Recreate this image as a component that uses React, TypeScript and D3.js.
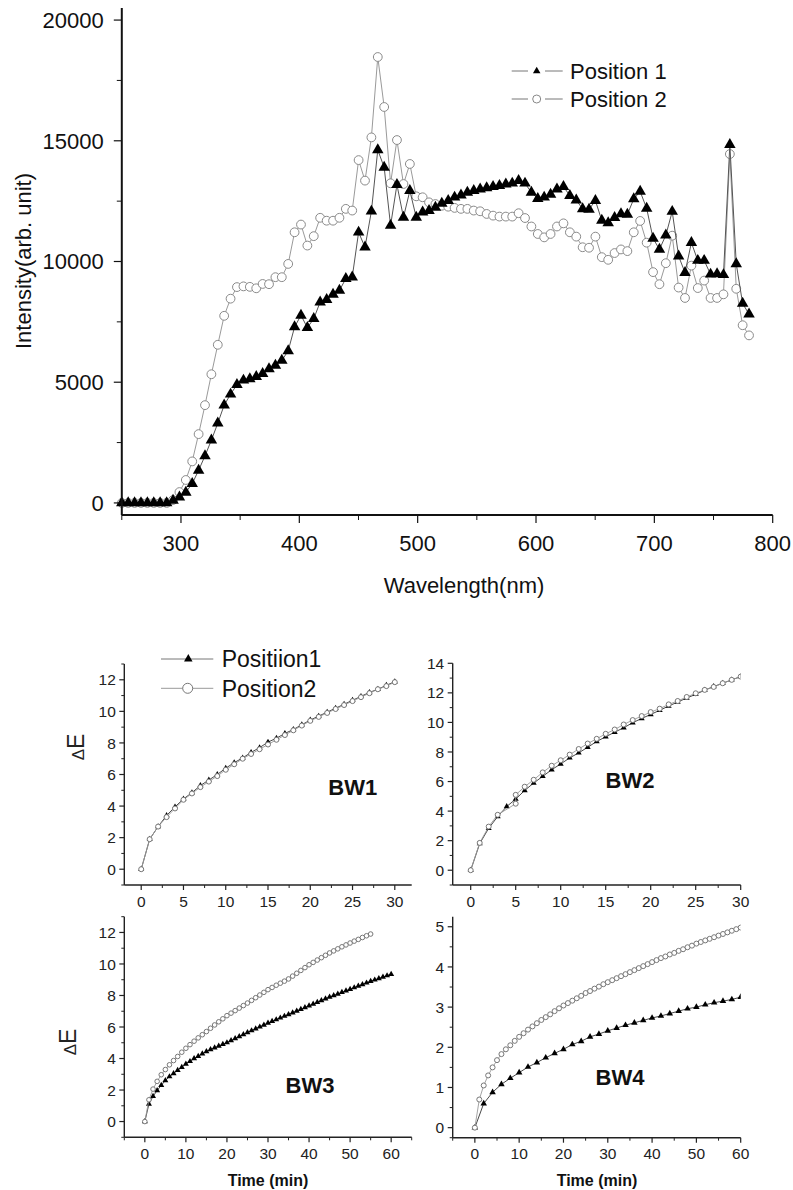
import React from 'react';
import * as d3 from 'd3';

const FONT = '"Liberation Sans", Arial, Helvetica, sans-serif';

// ---------- Top chart data ----------
const WAVELENGTH = [
  250.0, 255.4, 260.8, 266.2, 271.6, 277.0, 282.4, 287.9, 293.3, 298.7,
  304.1, 309.5, 314.9, 320.3, 325.7, 331.1, 336.5, 341.9, 347.3, 352.8,
  358.2, 363.6, 369.0, 374.4, 379.8, 385.2, 390.6, 396.0, 401.4, 406.8,
  412.2, 417.6, 423.1, 428.5, 433.9, 439.3, 444.7, 450.1, 455.5, 460.9,
  466.3, 471.7, 477.1, 482.5, 488.0, 493.4, 498.8, 504.2, 509.6, 515.0,
  520.4, 525.8, 531.2, 536.6, 542.0, 547.4, 552.8, 558.3, 563.7, 569.1,
  574.5, 579.9, 585.3, 590.7, 596.1, 601.5, 606.9, 612.3, 617.7, 623.2,
  628.6, 634.0, 639.4, 644.8, 650.2, 655.6, 661.0, 666.4, 671.8, 677.2,
  682.6, 688.0, 693.5, 698.9, 704.3, 709.7, 715.1, 720.5, 725.9, 731.3,
  736.7, 742.1, 747.5, 753.0, 758.4, 763.8, 769.2, 774.6, 780.0,
];
const POSITION1_INTENSITY = [
  0, 0, 0, 0, 0, 0, 0, 0, 100, 240,
  440, 800, 1350, 1950, 2600, 3300, 4050, 4500, 4900, 5080,
  5140, 5230, 5350, 5550, 5700, 5900, 6300, 7290, 7770, 7260,
  7630, 8320, 8420, 8640, 8800, 9290, 9350, 11210, 10590, 12080,
  14620, 13900, 11490, 13180, 11830, 12930, 11830, 12040, 12110, 12240,
  12410, 12520, 12660, 12750, 12860, 12930, 13000, 13050, 13100, 13140,
  13200, 13240, 13350, 13240, 12860, 12600, 12660, 12780, 13000, 13100,
  12730, 12540, 12180, 12160, 12520, 11700, 11600, 11820, 11970, 11950,
  12590, 12900, 12200, 10960, 10500, 11090, 12070, 10220, 9540, 10780,
  10040, 10040, 9470, 9490, 9450, 14840, 9900, 8260, 7820,
];
const POSITION2_INTENSITY = [
  0, 0, 0, 0, 0, 0, 0, 0, 120, 450,
  950, 1720, 2850, 4050, 5330, 6550, 7750, 8460, 8940, 8970,
  8950, 8890, 9070, 9060, 9350, 9350, 9900, 11210, 11530, 10660,
  11050, 11810, 11690, 11690, 11810, 12180, 12110, 14200, 13350, 15140,
  18470, 16400, 13240, 15030, 13210, 14040, 12700, 12660, 12450, 12380,
  12310, 12270, 12220, 12180, 12180, 12110, 12080, 11970, 11900, 11860,
  11860, 11860, 12000, 11800, 11450, 11140, 11000, 11140, 11450, 11580,
  11210, 11030, 10590, 10570, 11030, 10180, 10070, 10350, 10500, 10430,
  11210, 11680, 10780, 9560, 9060, 9930, 11070, 8920, 8490, 9830,
  8900, 9210, 8490, 8490, 8640, 14450, 8870, 7360, 6940,
];
const INTENSITY_TICKS = [0, 5000, 10000, 15000, 20000];
const INTENSITY_MINOR = [2500, 7500, 12500, 17500];
const WAVELENGTH_TICKS = [300, 400, 500, 600, 700, 800];
const WAVELENGTH_MINOR = [250, 350, 450, 550, 650, 750];

// ---------- BW panels data ----------
const BW1_TIME = [0,1,2,3,4,5,6,7,8,9,10,11,12,13,14,15,16,17,18,19,20,21,22,23,24,25,26,27,28,29,30];
const BW1_P1 = [0, 1.9, 2.7, 3.4, 3.95, 4.45, 4.85, 5.3, 5.65, 6.0, 6.4, 6.75, 7.05, 7.4, 7.7, 8.05,
  8.3, 8.6, 8.85, 9.15, 9.45, 9.7, 9.95, 10.2, 10.45, 10.7, 10.95, 11.2, 11.4, 11.65, 11.88];
const BW1_P2 = [0, 1.9, 2.7, 3.3, 3.85, 4.4, 4.8, 5.2, 5.55, 5.9, 6.3, 6.65, 7.0, 7.3, 7.6, 7.9,
  8.2, 8.5, 8.8, 9.1, 9.4, 9.65, 9.9, 10.15, 10.4, 10.65, 10.9, 11.15, 11.4, 11.6, 11.85];

const BW2_TIME_P1 = [0,1,2,3,4,5,6,7,8,9,10,11,12,13,14,15,16,17,18,19,20,21,22,23,24,25,26,27,28,29,30];
const BW2_P1 = [0, 1.8, 2.84, 3.63, 4.31, 4.81, 5.4, 5.9, 6.35, 6.8, 7.19, 7.6, 7.94, 8.32, 8.71, 9.03,
  9.34, 9.64, 9.98, 10.27, 10.54, 10.82, 11.11, 11.38, 11.65, 11.9, 12.18, 12.43, 12.65, 12.88, 13.1];
const BW2_TIME_P2 = [0,1,2,3,5,5,6,7,8,9,10,11,12,13,14,15,16,17,18,19,20,21,22,23,24,25,26,27,28,29,30];
const BW2_P2 = [0, 1.85, 2.95, 3.75, 4.5, 5.1, 5.65, 6.12, 6.62, 7.07, 7.44, 7.82, 8.2, 8.57, 8.89, 9.23,
  9.52, 9.86, 10.16, 10.43, 10.7, 10.93, 11.22, 11.45, 11.72, 11.97, 12.2, 12.4, 12.65, 12.88, 13.1];

const BW3_TIME_P1 = d3.range(0, 61);
const BW3_P1 = [0, 1.12, 1.6, 1.97, 2.3, 2.6, 2.85, 3.05, 3.25, 3.45, 3.65, 3.82, 4.0, 4.15, 4.3, 4.45,
  4.57, 4.68, 4.79, 4.9, 5.01, 5.14, 5.27, 5.4, 5.53, 5.65, 5.77, 5.89, 6.01, 6.13, 6.25,
  6.36, 6.47, 6.58, 6.69, 6.8, 6.91, 7.02, 7.13, 7.24, 7.35, 7.46, 7.57, 7.68, 7.79, 7.9,
  8.0, 8.1, 8.2, 8.3, 8.4, 8.5, 8.6, 8.7, 8.8, 8.9, 8.99, 9.08, 9.17, 9.26, 9.35];
const BW3_TIME_P2 = d3.range(0, 56);
const BW3_P2 = [0, 1.38, 2.06, 2.55, 2.97, 3.3, 3.6, 3.87, 4.13, 4.4, 4.65, 4.88, 5.1, 5.31, 5.51, 5.71,
  5.92, 6.13, 6.33, 6.52, 6.72, 6.88, 7.04, 7.2, 7.36, 7.52, 7.69, 7.86, 8.03, 8.2, 8.37,
  8.51, 8.65, 8.78, 8.91, 9.05, 9.23, 9.41, 9.59, 9.77, 9.95, 10.1, 10.25, 10.4, 10.55, 10.7,
  10.83, 10.96, 11.09, 11.21, 11.33, 11.45, 11.56, 11.68, 11.79, 11.9];

const BW4_TIME_P1 = [0,2,4,6,8,10,12,14,16,18,20,22,24,26,28,30,32,34,36,38,40,42,44,46,48,50,52,54,56,58,60];
const BW4_P1 = [0, 0.6, 0.88, 1.08, 1.23, 1.37, 1.51, 1.62, 1.74, 1.85, 1.95, 2.07, 2.15, 2.26, 2.33, 2.41,
  2.48, 2.55, 2.61, 2.67, 2.73, 2.78, 2.84, 2.9, 2.96, 3.0, 3.06, 3.11, 3.15, 3.19, 3.25];
const BW4_TIME_P2 = d3.range(0, 61);
const BW4_P2 = [0, 0.7, 1.05, 1.3, 1.5, 1.68, 1.83, 1.95, 2.05, 2.16, 2.26, 2.35, 2.44, 2.52, 2.6, 2.68,
  2.75, 2.82, 2.9, 2.97, 3.04, 3.1, 3.16, 3.22, 3.28, 3.35, 3.4, 3.46, 3.51, 3.57, 3.62,
  3.67, 3.72, 3.77, 3.82, 3.87, 3.92, 3.97, 4.02, 4.07, 4.12, 4.17, 4.22, 4.26, 4.31, 4.35,
  4.4, 4.44, 4.49, 4.53, 4.58, 4.62, 4.66, 4.7, 4.74, 4.78, 4.82, 4.86, 4.9, 4.94, 4.98];

const SERIES_LABELS_TOP = ['Position 1', 'Position 2'];
const SERIES_LABELS_BW = ['Positiion1', 'Position2'];

// ---------- helpers ----------
type Scale = d3.ScaleLinear<number, number>;

function triPath(width: number) {
  const area = (Math.sqrt(3) / 4) * width * width;
  return d3.symbol().type(d3.symbolTriangle).size(area)() as string;
}

function Series(props: {
  xs: number[]; ys: number[]; sx: Scale; sy: Scale; kind: 'tri' | 'circ';
  lineColor: string; lineWidth: number; size: number; stroke?: string; clip?: string;
}) {
  const { xs, ys, sx, sy, kind, lineColor, lineWidth, size, stroke, clip } = props;
  const pts: [number, number][] = xs.map((v, i) => [sx(v), sy(ys[i])]);
  const line = d3.line()(pts) as string;
  const tri = triPath(size);
  return (
    <g clipPath={clip}>
      <path d={line} fill="none" stroke={lineColor} strokeWidth={lineWidth} />
      {pts.map(([px, py], i) =>
        kind === 'tri' ? (
          <path key={i} d={tri} transform={`translate(${px},${py})`} fill="#000" />
        ) : (
          <circle key={i} cx={px} cy={py} r={size} fill="#fff" stroke={stroke || '#888'} strokeWidth={1} />
        )
      )}
    </g>
  );
}

function Axes(props: {
  sx: Scale; sy: Scale; xMajor: number[]; xMinor: number[]; yMajor: number[]; yMinor: number[];
  axisWidth: number; majorLen: number; minorLen: number; fontSize: number;
  xLabelDy: number; yLabelGap: number; color: string;
}) {
  const { sx, sy, xMajor, xMinor, yMajor, yMinor, axisWidth, majorLen, minorLen, fontSize, xLabelDy, yLabelGap, color } = props;
  const [x0, x1] = sx.range();
  const [y0, y1] = sy.range();
  return (
    <g fontFamily={FONT} fill={color}>
      <line x1={x0} x2={x0} y1={y0} y2={y1} stroke={color} strokeWidth={axisWidth} />
      <line x1={x0} x2={x1} y1={y0} y2={y0} stroke={color} strokeWidth={axisWidth} />
      {yMajor.map((v) => (
        <g key={'ym' + v}>
          <line x1={x0 - majorLen} x2={x0} y1={sy(v)} y2={sy(v)} stroke={color} strokeWidth={1.2} />
          <text x={x0 - yLabelGap} y={sy(v)} dy="0.36em" textAnchor="end" fontSize={fontSize}>{v}</text>
        </g>
      ))}
      {yMinor.map((v) => (
        <line key={'yn' + v} x1={x0 - minorLen} x2={x0} y1={sy(v)} y2={sy(v)} stroke={color} strokeWidth={1} />
      ))}
      {xMajor.map((v) => (
        <g key={'xm' + v}>
          <line x1={sx(v)} x2={sx(v)} y1={y0} y2={y0 + majorLen} stroke={color} strokeWidth={1.2} />
          <text x={sx(v)} y={y0 + xLabelDy} textAnchor="middle" fontSize={fontSize}>{v}</text>
        </g>
      ))}
      {xMinor.map((v) => (
        <line key={'xn' + v} x1={sx(v)} x2={sx(v)} y1={y0} y2={y0 + minorLen} stroke={color} strokeWidth={1} />
      ))}
    </g>
  );
}

function DeltaE({ x, y }: { x: number; y: number }) {
  return (
    <text transform={`translate(${x},${y}) rotate(-90)`} textAnchor="middle" fontFamily={FONT} fontSize={23} fill="#222">
      <tspan fontSize={17}>Δ</tspan>E
    </text>
  );
}

function Panel(props: {
  id: string; xDomain: [number, number]; yDomain: [number, number];
  xRange: [number, number]; yRange: [number, number];
  xMajor: number[]; xMinor: number[]; yMajor: number[]; yMinor: number[];
  p1x: number[]; p1y: number[]; p2x: number[]; p2y: number[];
  triSize: number; circR: number; label: string; labelX: number; labelY: number;
}) {
  const sx = d3.scaleLinear().domain(props.xDomain).range(props.xRange);
  const sy = d3.scaleLinear().domain(props.yDomain).range(props.yRange);
  const clipId = 'clip-' + props.id;
  return (
    <g>
      <defs>
        <clipPath id={clipId}>
          <rect x={props.xRange[0]} y={props.yRange[1] - 6} width={props.xRange[1] - props.xRange[0]} height={props.yRange[0] - props.yRange[1] + 6} />
        </clipPath>
      </defs>
      <Series xs={props.p1x} ys={props.p1y} sx={sx} sy={sy} kind="tri" lineColor="#333" lineWidth={0.9} size={props.triSize} clip={`url(#${clipId})`} />
      <Series xs={props.p2x} ys={props.p2y} sx={sx} sy={sy} kind="circ" lineColor="#999" lineWidth={0.9} size={props.circR} stroke="#777" clip={`url(#${clipId})`} />
      <Axes sx={sx} sy={sy} xMajor={props.xMajor} xMinor={props.xMinor} yMajor={props.yMajor} yMinor={props.yMinor}
        axisWidth={1.4} majorLen={5} minorLen={3} fontSize={15.5} xLabelDy={21.5} yLabelGap={8.5} color="#222" />
      <text x={props.labelX} y={props.labelY} textAnchor="middle" fontFamily={FONT} fontWeight="bold" fontSize={22} fill="#111">{props.label}</text>
    </g>
  );
}

export default function App() {
  const sx = d3.scaleLinear().domain([250, 800]).range([121.8, 772.7]);
  const sy = d3.scaleLinear().domain([-500, 20500]).range([515, 8]);
  const triLeg = triPath(7.5);

  return (
    <svg width={793} height={1190} style={{ position: 'absolute', left: 0, top: 0, background: '#fff' }}>
      <rect x={0} y={0} width={793} height={1190} fill="#fff" />
      {/* ---------- Top chart ---------- */}
      <Series xs={WAVELENGTH} ys={POSITION2_INTENSITY} sx={sx} sy={sy} kind="circ" lineColor="#9a9a9a" lineWidth={1} size={4.4} stroke="#8a8a8a" />
      <Series xs={WAVELENGTH} ys={POSITION1_INTENSITY} sx={sx} sy={sy} kind="tri" lineColor="#555" lineWidth={1} size={11.5} />
      <Axes sx={sx} sy={sy} xMajor={WAVELENGTH_TICKS} xMinor={WAVELENGTH_MINOR} yMajor={INTENSITY_TICKS} yMinor={INTENSITY_MINOR}
        axisWidth={2} majorLen={8} minorLen={5} fontSize={22} xLabelDy={36} yLabelGap={18} color="#111" />
      <text x={464} y={593} textAnchor="middle" fontFamily={FONT} fontSize={22} fill="#111">Wavelength(nm)</text>
      <text transform="translate(31,261) rotate(-90)" textAnchor="middle" fontFamily={FONT} fontSize={22} fill="#111">Intensity(arb. unit)</text>
      {/* legend */}
      <g fontFamily={FONT} fontSize={22} fill="#111">
        <line x1={511.7} x2={528} y1={71} y2={71} stroke="#777" strokeWidth={1} />
        <line x1={545} x2={562.7} y1={71} y2={71} stroke="#777" strokeWidth={1} />
        <path d={triLeg} transform="translate(536.7,71)" fill="#000" />
        <text x={570} y={79}>{SERIES_LABELS_TOP[0]}</text>
        <line x1={511.7} x2={528} y1={99} y2={99} stroke="#777" strokeWidth={1} />
        <line x1={545} x2={562.7} y1={99} y2={99} stroke="#777" strokeWidth={1} />
        <circle cx={536.7} cy={99} r={4} fill="#fff" stroke="#888" strokeWidth={1} />
        <text x={570} y={107}>{SERIES_LABELS_TOP[1]}</text>
      </g>

      {/* ---------- BW1 ---------- */}
      <Panel id="bw1" xDomain={[-2, 32]} yDomain={[-1, 13]} xRange={[124.3, 411.7]} yRange={[885, 664]}
        xMajor={[0, 5, 10, 15, 20, 25, 30]} xMinor={[2.5, 7.5, 12.5, 17.5, 22.5, 27.5]}
        yMajor={[0, 2, 4, 6, 8, 10, 12]} yMinor={[-1, 1, 3, 5, 7, 9, 11, 13]}
        p1x={BW1_TIME} p1y={BW1_P1} p2x={BW1_TIME} p2y={BW1_P2} triSize={6} circR={2.5}
        label="BW1" labelX={352.7} labelY={795} />
      <DeltaE x={84} y={747} />
      <g fontFamily={FONT} fontSize={23} fill="#111">
        <line x1={161} x2={213.3} y1={659} y2={659} stroke="#777" strokeWidth={1} />
        <path d={triPath(8.5)} transform="translate(188.3,659)" fill="#000" />
        <text x={221.7} y={667}>{SERIES_LABELS_BW[0]}</text>
        <line x1={161} x2={213.3} y1={688.3} y2={688.3} stroke="#999" strokeWidth={1} />
        <circle cx={187.7} cy={688.3} r={5} fill="#fff" stroke="#777" strokeWidth={1} />
        <text x={221.7} y={697}>{SERIES_LABELS_BW[1]}</text>
      </g>

      {/* ---------- BW2 ---------- */}
      <Panel id="bw2" xDomain={[-2, 30]} yDomain={[-1, 14]} xRange={[452.7, 740.7]} yRange={[885, 663.3]}
        xMajor={[0, 5, 10, 15, 20, 25, 30]} xMinor={[2.5, 7.5, 12.5, 17.5, 22.5, 27.5]}
        yMajor={[0, 2, 4, 6, 8, 10, 12, 14]} yMinor={[-1, 1, 3, 5, 7, 9, 11, 13]}
        p1x={BW2_TIME_P1} p1y={BW2_P1} p2x={BW2_TIME_P2} p2y={BW2_P2} triSize={6} circR={2.5}
        label="BW2" labelX={630} labelY={788} />

      {/* ---------- BW3 ---------- */}
      <Panel id="bw3" xDomain={[-5, 65]} yDomain={[-1, 13]} xRange={[124.3, 411.7]} yRange={[1137.3, 916.7]}
        xMajor={[0, 10, 20, 30, 40, 50, 60]} xMinor={[-5, 5, 15, 25, 35, 45, 55, 65]}
        yMajor={[0, 2, 4, 6, 8, 10, 12]} yMinor={[-1, 1, 3, 5, 7, 9, 11, 13]}
        p1x={BW3_TIME_P1} p1y={BW3_P1} p2x={BW3_TIME_P2} p2y={BW3_P2} triSize={6} circR={2.3}
        label="BW3" labelX={310} labelY={1093} />
      <DeltaE x={76} y={1042} />
      <text x={268} y={1186} textAnchor="middle" fontFamily={FONT} fontWeight="bold" fontSize={16} fill="#111">Time (min)</text>

      {/* ---------- BW4 ---------- */}
      <Panel id="bw4" xDomain={[-5, 60]} yDomain={[-0.25, 5.25]} xRange={[452.7, 740.7]} yRange={[1137.7, 916.7]}
        xMajor={[0, 10, 20, 30, 40, 50, 60]} xMinor={[-5, 5, 15, 25, 35, 45, 55]}
        yMajor={[0, 1, 2, 3, 4, 5]} yMinor={[-0.25, 0.5, 1.5, 2.5, 3.5, 4.5]}
        p1x={BW4_TIME_P1} p1y={BW4_P1} p2x={BW4_TIME_P2} p2y={BW4_P2} triSize={6.5} circR={2.5}
        label="BW4" labelX={620} labelY={1085} />
      <text x={597} y={1186} textAnchor="middle" fontFamily={FONT} fontWeight="bold" fontSize={16} fill="#111">Time (min)</text>
    </svg>
  );
}
